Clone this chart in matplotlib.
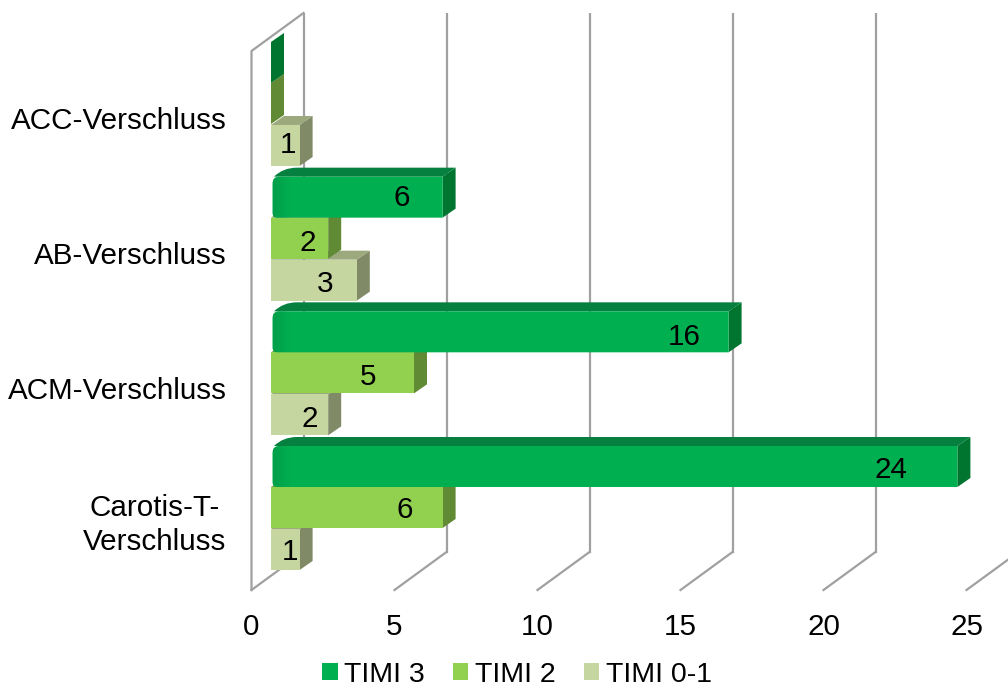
import matplotlib
matplotlib.use("Agg")
import matplotlib.pyplot as plt
from matplotlib.patches import PathPatch, Polygon, Rectangle, Patch
from matplotlib.path import Path

plt.rcParams['font.family'] = ['Liberation Sans', 'DejaVu Sans']

# Data, listed from the bottom category upward
categories = ['Carotis-T-\nVerschluss', 'ACM-Verschluss', 'AB-Verschluss', 'ACC-Verschluss']
series_names = ['TIMI 3', 'TIMI 2', 'TIMI 0-1']
timi_3 = [24, 16, 6, 0]
timi_2 = [6, 5, 2, 0]
timi_0_1 = [1, 2, 3, 1]
x_ticks = [0, 5, 10, 15, 20, 25]

# Shade triples: front, side, top
shades = {
    'TIMI 3': ('#00B050', '#00752F', '#05803F'),
    'TIMI 2': ('#92D050', '#618A35', '#7A9E4A'),
    'TIMI 0-1': ('#C6D6A0', '#808A66', '#9BA97D'),
}

# Layout scale (pixels per data unit) at 100 dpi
W, H = 1008, 689
SX, SY = 28.6, 134.67
X0_PX, Y0_PX = 251.5, 524.0      # where value 0 / first category fall
BOTTOM_PX, TOP_PX = 590.0, 13.0


def dx(px):
    return px / SX


def dy(px):
    return px / SY


BAR_START = dx(19.5)
BAR_H = dy(41)
DEPTH_X, DEPTH_Y = dx(13), dy(9)
WALL_X, WALL_Y = dx(52), dy(38)
# Vertical centre of each series band relative to its category
BAND_OFFSET = {'TIMI 3': dy(57.5), 'TIMI 2': dy(16.5), 'TIMI 0-1': dy(-25.5)}
# Value labels: pixels left of the bar end, and vertical nudge, by (series, category)
LABEL_BACK = {
    'TIMI 3': [66, 44, 41, 0],
    'TIMI 2': [37.5, 46, 20, 0],
    'TIMI 0-1': [9.5, 18, 32, 11.5],
}
LABEL_UP = {
    'TIMI 3': [-1, -3, 2, 0],
    'TIMI 2': [-0.5, -1.5, -2, 0],
    'TIMI 0-1': [-0.5, -1.5, -1.5, 2.5],
}
TEXT_DROP = 2.5      # digits sit above the centre of their text box
CATEGORY_LIFT = [5.5, 1.5, 1.5, 1.5]      # pixels; the two-line label needs more

fig = plt.figure(figsize=(W / 100, H / 100), dpi=100)
ax = fig.add_axes([X0_PX / W, 1 - BOTTOM_PX / H, (W - X0_PX) / W, (BOTTOM_PX - TOP_PX) / H])
ax.set_xlim(0, (W - X0_PX) / SX)
ax.set_ylim((Y0_PX - BOTTOM_PX) / SY, (Y0_PX - TOP_PX) / SY)
for s in ax.spines.values():
    s.set_visible(False)

# Walls and gridlines of the 3D frame
GRID = '#A0A0A0'
LW = 1.6
y_lo, y_hi = ax.get_ylim()
for t in x_ticks:
    ax.plot([t, t + WALL_X], [y_lo, y_lo + WALL_Y], color=GRID, lw=LW, clip_on=False, zorder=1)
    ax.plot([t + WALL_X, t + WALL_X], [y_lo + WALL_Y, y_hi], color=GRID, lw=LW, zorder=1,
            clip_on=True)
ax.plot([0, 0, WALL_X], [y_lo, y_hi - WALL_Y, y_hi], color=GRID, lw=LW, clip_on=False, zorder=1)


def draw_bar(cat_y, value, name, z):
    front, side, top = shades[name]
    y0 = cat_y + BAND_OFFSET[name] - BAR_H / 2
    y1 = y0 + BAR_H
    x0 = BAR_START
    x1 = BAR_START + value
    rounded = name == 'TIMI 3' and value > 0

    # Side face
    ax.add_patch(Polygon([(x1, y0), (x1 + DEPTH_X, y0 + DEPTH_Y), (x1 + DEPTH_X, y1 + DEPTH_Y), (x1, y1)],
                         closed=True, fc=side, ec='none', zorder=z))
    if value == 0:
        return

    # Top face
    if rounded:
        verts = [(x0 + dx(3), y1), (x0 + dx(12), y1 + dy(9)), (x0 + dx(26), y1 + DEPTH_Y),
                 (x1 + DEPTH_X, y1 + DEPTH_Y), (x1, y1), (x0 + dx(3), y1)]
        codes = [Path.MOVETO, Path.CURVE3, Path.CURVE3, Path.LINETO, Path.LINETO, Path.CLOSEPOLY]
    else:
        verts = [(x0, y1), (x0 + DEPTH_X, y1 + DEPTH_Y), (x1 + DEPTH_X, y1 + DEPTH_Y), (x1, y1), (x0, y1)]
        codes = [Path.MOVETO, Path.LINETO, Path.LINETO, Path.LINETO, Path.CLOSEPOLY]
    ax.add_patch(PathPatch(Path(verts, codes), fc=top, ec='none', zorder=z))

    # Front face
    if rounded:
        xl = x0 + dx(1.5)
        verts = [(xl + dx(7), y1), (x1, y1), (x1, y0), (xl + dx(5), y0),
                 (xl, y0), (xl, y0 + dy(5)), (xl, y1 - dy(7)), (xl, y1), (xl + dx(7), y1), (xl + dx(7), y1)]
        codes = [Path.MOVETO, Path.LINETO, Path.LINETO, Path.LINETO,
                 Path.CURVE3, Path.CURVE3, Path.LINETO, Path.CURVE3, Path.CURVE3, Path.CLOSEPOLY]
        body = PathPatch(Path(verts, codes), fc=front, ec='none', zorder=z)
        ax.add_patch(body)
        # Darker shading fading out along the rounded end
        n = 9
        for i in range(n):
            f = 1 - i / n
            strip = Rectangle((xl + dx(2 * i), y0), dx(2.2), BAR_H, fc='#009A48',
                              alpha=0.75 * f, ec='none', zorder=z)
            ax.add_patch(strip)
            strip.set_clip_path(body)
    else:
        ax.add_patch(Rectangle((x0, y0), value, BAR_H, fc=front, ec='none', zorder=z))


FS = 21.3


def draw_label(cat_idx, value, name, z):
    if value == 0:
        return
    x = BAR_START + value - dx(LABEL_BACK[name][cat_idx])
    y = cat_idx + BAND_OFFSET[name] + dy(LABEL_UP[name][cat_idx] - TEXT_DROP)
    ax.text(x, y, str(value), ha='center', va='center', fontsize=FS, color='black', zorder=50)


series_values = {'TIMI 3': timi_3, 'TIMI 2': timi_2, 'TIMI 0-1': timi_0_1}
z = 2
for i in range(len(categories)):
    for name in reversed(series_names):
        draw_bar(i, series_values[name][i], name, z)
        z += 1
for i in range(len(categories)):
    for name in series_names:
        draw_label(i, series_values[name][i], name, z)

# Axes labels
ax.set_xticks(x_ticks)
ax.set_xticklabels([str(t) for t in x_ticks], fontsize=FS, color='black')
ax.tick_params(axis='x', length=0, pad=16.5)
ax.set_yticks([i + dy(CATEGORY_LIFT[i]) for i in range(len(categories))])
ylabels = ax.set_yticklabels(categories, fontsize=FS, color='black', multialignment='center')
for lab in ylabels:
    lab.set_linespacing(1.3)
ax.tick_params(axis='y', length=0, pad=18)

# Legend
handles = [Patch(fc=shades[n][0], ec='none', label=n) for n in series_names]
fig.legend(handles=handles, loc='center', bbox_to_anchor=(517 / W, 1 - 674.5 / H), ncol=3, frameon=False,
           fontsize=20.5, handlelength=0.55, handleheight=0.58, handletextpad=0.24, columnspacing=0.97,
           borderpad=0, labelspacing=0)

fig.savefig('out.png', dpi=100, facecolor='white')
